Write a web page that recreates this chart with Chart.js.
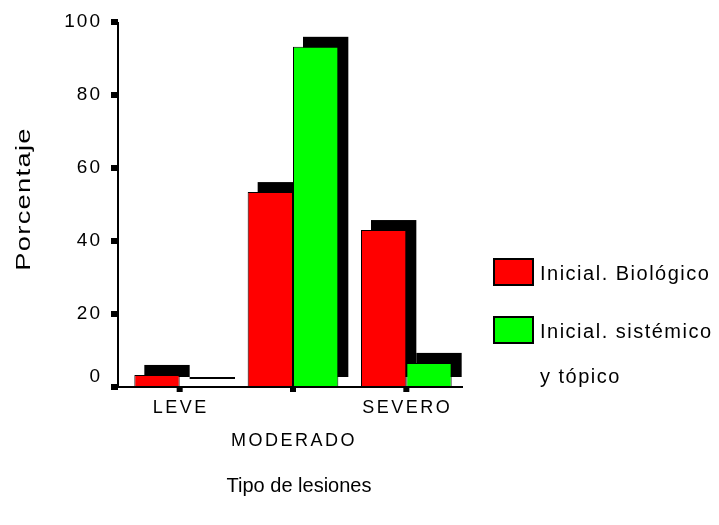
<!DOCTYPE html>
<html>
<head>
<meta charset="utf-8">
<script src="https://cdn.jsdelivr.net/npm/chart.js@4/dist/chart.umd.min.js"></script>
<style>
  html, body { margin: 0; padding: 0; background: #fff; }
  #wrap { width: 719px; height: 525px; }
</style>
</head>
<body>
<div id="wrap"><canvas id="chart" width="719" height="525"></canvas></div>
<script>
// Percentage of patients per lesion type, by initial treatment
const categories = ['LEVE', 'MODERADO', 'SEVERO'];
const biologico = [3.3, 53.4, 43.0];
const sistemicoTopico = [0, 93.2, 6.6];
const yTicks = [0, 20, 40, 60, 80, 100];
const seriesLabels = ['Inicial. Biológico', 'Inicial. sistémico y tópico'];
const legendLines = [['Inicial. Biológico'], ['Inicial. sistémico', 'y tópico']];
const xTitle = 'Tipo de lesiones';
const yTitle = 'Porcentaje';

const FONT = '"Liberation Sans", Arial, sans-serif';
const SHADOW_DX = 10;
const SHADOW_DY = -10;

function drawText(ctx, str, x, y, size, align, spacing, stretch) {
  ctx.save();
  ctx.translate(x, y);
  if (stretch) ctx.scale(stretch, 1);
  ctx.font = size + 'px ' + FONT;
  ctx.fillStyle = '#000';
  ctx.textAlign = align;
  ctx.textBaseline = 'middle';
  if ('letterSpacing' in ctx) ctx.letterSpacing = (spacing || 0) + 'px';
  ctx.fillText(str, 0, 0);
  ctx.restore();
}

// Solid black drop shadow behind each bar, offset up and to the right
const barShadow = {
  id: 'barShadow',
  beforeDatasetsDraw(chart) {
    const ctx = chart.ctx;
    ctx.save();
    ctx.fillStyle = '#000';
    chart.data.datasets.forEach((ds, i) => {
      chart.getDatasetMeta(i).data.forEach(bar => {
        const p = bar.getProps(['x', 'y', 'base', 'width'], true);
        const top = Math.min(p.y, p.base);
        const h = Math.max(Math.abs(p.base - p.y), 2);
        ctx.fillRect(p.x - p.width / 2 + SHADOW_DX, top + SHADOW_DY, p.width, h);
      });
    });
    ctx.restore();
  }
};

// Axes, tick marks, tick labels, titles and legend
const axesAndLegend = {
  id: 'axesAndLegend',
  afterDraw(chart) {
    const ctx = chart.ctx;
    const area = chart.chartArea;
    const xs = chart.scales.x;
    const ys = chart.scales.y;
    const axisX = area.left - 5;
    const axisY = ys.getPixelForValue(0);

    ctx.save();
    ctx.strokeStyle = '#000';
    ctx.fillStyle = '#000';
    ctx.lineWidth = 2;
    ctx.beginPath();
    ctx.moveTo(axisX, ys.getPixelForValue(100));
    ctx.lineTo(axisX, axisY);
    ctx.moveTo(axisX - 1, axisY);
    ctx.lineTo(area.right, axisY);
    ctx.stroke();

    yTicks.forEach(v => {
      const py = ys.getPixelForValue(v);
      ctx.fillRect(axisX - 7, py - 3, 7, 6);
      drawText(ctx, String(v), axisX - 16, v === 0 ? py - 10 : py, 19, 'right', 2);
    });

    categories.forEach((c, i) => {
      const px = xs.getPixelForValue(i);
      ctx.fillRect(px - 3, axisY, 6, 5);
      drawText(ctx, c, px + 1, i % 2 === 0 ? axisY + 21 : axisY + 54, 18, 'center', 2.5);
    });
    ctx.restore();

    drawText(ctx, xTitle, 299, 486, 20, 'center', 0);

    ctx.save();
    ctx.translate(24, 199);
    ctx.rotate(-Math.PI / 2);
    drawText(ctx, yTitle, 0, 0, 21, 'center', 1, 1.3);
    ctx.restore();

    // legend
    const boxTops = [259, 317];
    chart.data.datasets.forEach((ds, i) => {
      ctx.save();
      ctx.fillStyle = ds.backgroundColor;
      ctx.strokeStyle = '#000';
      ctx.lineWidth = 2;
      ctx.fillRect(494, boxTops[i], 39, 26);
      ctx.strokeRect(494, boxTops[i], 39, 26);
      ctx.restore();
      legendLines[i].forEach((line, k) => {
        drawText(ctx, line, 540, boxTops[i] + 15 + k * 45, 20, 'left', 1.5);
      });
    });
  }
};

new Chart(document.getElementById('chart'), {
  type: 'bar',
  data: {
    labels: categories,
    datasets: [
      {
        label: seriesLabels[0],
        data: biologico,
        backgroundColor: '#ff0000',
        borderColor: '#000',
        borderWidth: 1,
        borderSkipped: false
      },
      {
        label: seriesLabels[1],
        data: sistemicoTopico,
        backgroundColor: '#00ff00',
        borderColor: '#000',
        borderWidth: 1,
        borderSkipped: false
      }
    ]
  },
  options: {
    responsive: false,
    animation: false,
    devicePixelRatio: 1,
    layout: { padding: { left: 123, right: 256, top: 22, bottom: 138 } },
    datasets: { bar: { categoryPercentage: 0.8, barPercentage: 1.0 } },
    scales: {
      x: { display: false, offset: true },
      y: { display: false, min: 0, max: 100 }
    },
    plugins: {
      legend: { display: false },
      tooltip: { enabled: false }
    }
  },
  plugins: [barShadow, axesAndLegend]
});
</script>
</body>
</html>
